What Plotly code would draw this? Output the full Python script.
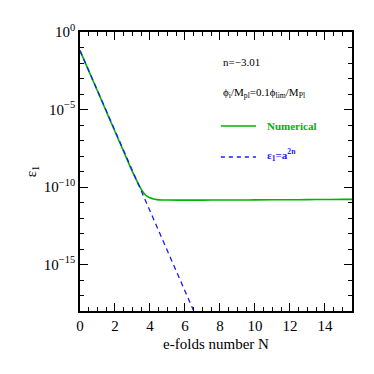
import plotly.graph_objects as go

# Numerical solution
N_num = [0, 0.5, 1, 1.5, 2, 2.5, 3, 3.2, 3.4, 3.6, 3.8, 4.0, 4.2, 4.4, 4.7, 5.0, 6, 7, 8, 9, 10, 11, 12, 13, 14, 15, 15.6]
eps_num = [6.3e-2, 3.1e-3, 1.55e-4, 7.7e-6, 3.8e-7, 1.9e-8, 9.5e-10, 3.2e-10, 1.15e-10, 4.8e-11, 2.7e-11, 2.0e-11, 1.68e-11, 1.54e-11, 1.46e-11, 1.44e-11, 1.43e-11, 1.43e-11, 1.44e-11, 1.45e-11, 1.47e-11, 1.49e-11, 1.51e-11, 1.53e-11, 1.56e-11, 1.59e-11, 1.6e-11]

# Analytic eps1 = a^{2n} (straight line on log plot)
N_an = [0, 6.5]
eps_an = [6.3e-2, 1.0e-18]

ytick_vals = [1, 1e-5, 1e-10, 1e-15]
ytick_text = ["10<sup>0</sup>", "10<sup>−5</sup>", "10<sup>−10</sup>", "10<sup>−15</sup>"]

FONT = "Times New Roman"
GREEN = "#00b400"
BLUE = "#1a1aff"

fig = go.Figure()
fig.add_trace(go.Scatter(x=N_num, y=eps_num, mode="lines", line_shape="spline",
                         line=dict(color=GREEN, width=1.6), showlegend=False))
fig.add_trace(go.Scatter(x=N_an, y=eps_an, mode="lines",
                         line=dict(color=BLUE, width=1.3, dash="5px,4px"), showlegend=False))

axis_common = dict(showline=True, linecolor="black", linewidth=1.5, mirror="allticks",
                   ticks="inside", tickcolor="black", ticklen=8, tickwidth=1,
                   showgrid=False, zeroline=False, automargin=False,
                   tickfont=dict(family=FONT, size=15, color="black"))

fig.update_xaxes(range=[0, 15.55], tickvals=[0, 2, 4, 6, 8, 10, 12, 14],
                 minor=dict(dtick=0.5, ticks="inside", ticklen=4, tickcolor="black", showgrid=False),
                 title=dict(text="e-folds number N", font=dict(family=FONT, size=15, color="black"), standoff=6),
                 **axis_common)
fig.update_yaxes(type="log", range=[-18, 0], tickvals=ytick_vals, ticktext=ytick_text,
                 minor=dict(tickvals=[10 ** (-k) for k in range(0, 19)], ticks="inside", ticklen=4,
                            tickcolor="black", showgrid=False),
                 title=dict(text="ε<sub>1</sub>", font=dict(family=FONT, size=15, color="black"), standoff=4),
                 **axis_common)

ann_font = dict(family=FONT, size=11, color="black")
fig.add_annotation(xref="paper", yref="paper", x=0.52, y=0.892, xanchor="left", yanchor="middle",
                   text="n=−3.01", showarrow=False, font=ann_font)
fig.add_annotation(xref="paper", yref="paper", x=0.52, y=0.781, xanchor="left", yanchor="middle",
                   text="ϕ<sub>i</sub>/M<sub>pl</sub>=0.1ϕ<sub>lim</sub>/M<sub>Pl</sub>", showarrow=False,
                   font=ann_font)
fig.add_shape(type="line", xref="paper", yref="paper", x0=0.518, x1=0.647, y0=0.663, y1=0.663,
              line=dict(color=GREEN, width=1.6))
fig.add_annotation(xref="paper", yref="paper", x=0.68, y=0.663, xanchor="left", yanchor="middle",
                   text="<b>Numerical</b>", showarrow=False,
                   font=dict(family=FONT, size=11, color=GREEN))
fig.add_shape(type="line", xref="paper", yref="paper", x0=0.518, x1=0.647, y0=0.552, y1=0.552,
              line=dict(color=BLUE, width=1.3, dash="4px,4px"))
fig.add_annotation(xref="paper", yref="paper", x=0.68, y=0.56, xanchor="left", yanchor="middle",
                   text="<b>ε<sub>1</sub>=a<sup>2n</sup></b>", showarrow=False,
                   font=dict(family=FONT, size=11, color=BLUE))

# page body has an 8px margin: shrink figure so the plot area lands where the reference has it
fig.update_layout(width=366, height=366, margin=dict(l=72, r=22, t=24, b=63),
                  plot_bgcolor="white", paper_bgcolor="white")

fig.write_html("out.html")
